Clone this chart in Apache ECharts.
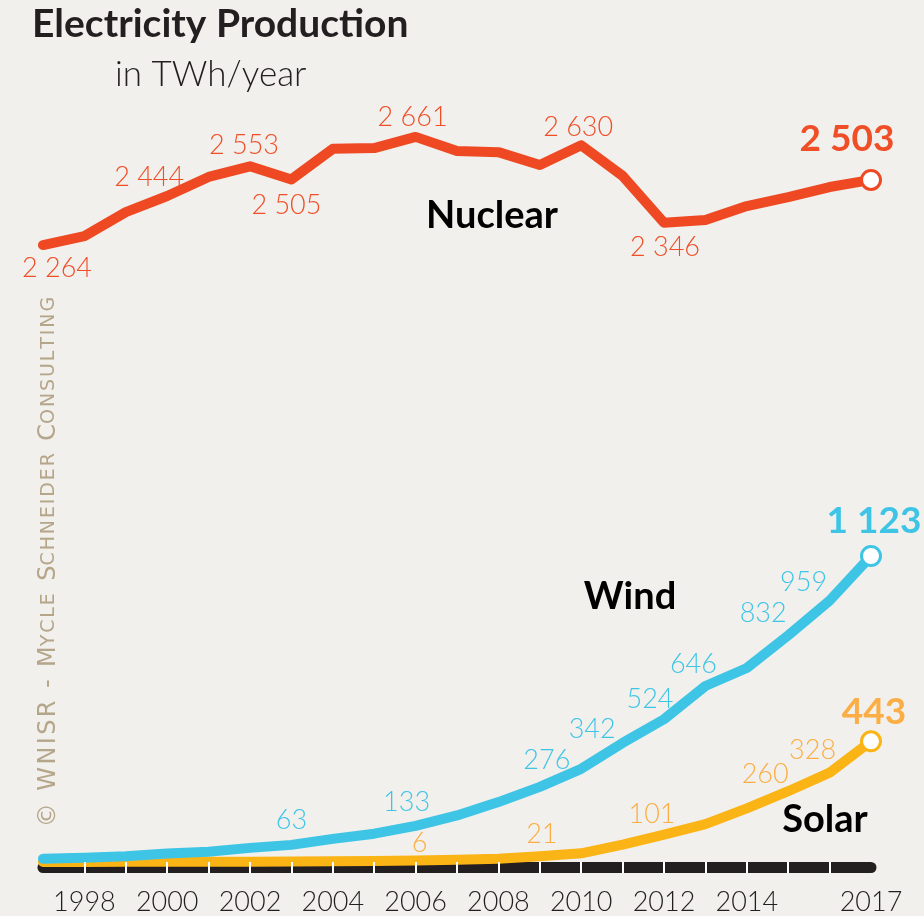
<!DOCTYPE html>
<html>
<head>
<meta charset="utf-8">
<script src="https://cdn.jsdelivr.net/npm/echarts@6/dist/echarts.min.js"></script>
<style>
  html, body { margin: 0; padding: 0; background: #f2f0ed; }
  #chart { width: 924px; height: 916px; }
</style>
</head>
<body>
<div id="chart"></div>
<script>
// values, TWh/year
const years = [1997, 1998, 1999, 2000, 2001, 2002, 2003, 2004, 2005, 2006, 2007,
  2008, 2009, 2010, 2011, 2012, 2013, 2014, 2015, 2016, 2017];
const nuclear = [2264, 2297, 2385, 2444, 2514, 2553, 2505, 2617, 2620, 2661, 2609,
  2605, 2558, 2630, 2518, 2346, 2356, 2407, 2440, 2477, 2503];
const wind = [12, 16, 21, 31, 38, 52, 63, 85, 104, 133, 171,
  220, 276, 342, 437, 524, 646, 712, 832, 959, 1123];
const solar = [0.5, 0.5, 1, 1, 1, 1.5, 2, 3, 4, 6, 8,
  12, 21, 32, 64, 101, 139, 197, 260, 328, 443];
const axisYears = [1998, 2000, 2002, 2004, 2006, 2008, 2010, 2012, 2014, 2017];

// which points carry a value label, and where that label sits (dx, dy from point)
const nuclearLabels = {1997: [14, 23], 2000: [-18, -19], 2002: [-6, -21], 2003: [-5, 26],
  2006: [-3, -20], 2010: [-3, -18], 2012: [1, 25]};
const windLabels = {2003: [0, -25], 2006: [-9, -24], 2009: [7, -27], 2010: [11, -40],
  2012: [-14, -20], 2013: [-12, -22], 2015: [-25, -22], 2016: [-26, -18]};
const solarLabels = {2006: [4, -17], 2009: [2, -22], 2012: [-12, -20], 2015: [-23, -17],
  2016: [-17, -22]};

const fmt = v => String(v).replace(/\B(?=(\d{3})+(?!\d))/g, ' ');
const numFont = 'Lato, "Noto Sans", sans-serif';
const markFont = '"DejaVu Sans", "Liberation Sans", sans-serif';
// letter-spaced small caps for the copyright line
const spaced = s => s.split('').join('\u200a');

function buildData(values, labels, color, endOffset) {
  return values.map((v, i) => {
    const y = years[i];
    const item = {value: [String(y), v], symbol: 'none'};
    if (labels[y]) {
      item.symbol = 'circle';
      item.symbolSize = 1;
      item.itemStyle = {color: 'rgba(0,0,0,0)', borderWidth: 0};
      item.label = {
        show: true, position: 'inside', offset: labels[y],
        formatter: fmt(v), color: color, fontSize: 27, fontWeight: 300, fontFamily: numFont
      };
    }
    if (i === values.length - 1) {
      item.symbol = 'circle';
      item.symbolSize = 19;
      item.label = {
        show: true, position: 'inside', offset: endOffset,
        formatter: fmt(v), color: color, fontSize: 37, fontWeight: 'bold', fontFamily: numFont
      };
    }
    return item;
  });
}

function lineSeries(name, values, labels, lineColor, labelColor, endOffset) {
  return {
    name: name,
    type: 'line',
    xAxisIndex: 0,
    yAxisIndex: 0,
    data: buildData(values, labels, labelColor, endOffset),
    showAllSymbol: true,
    lineStyle: {color: lineColor, width: 10, join: 'round', cap: 'round'},
    itemStyle: {color: '#ffffff', borderColor: lineColor, borderWidth: 3},
    emphasis: {disabled: true},
    silent: true,
    z: 3
  };
}

let chart = echarts.init(document.getElementById('chart'));

chart.setOption({
  backgroundColor: '#f2f0ed',
  animation: false,
  grid: {left: 43, right: 53, top: 44.5, bottom: 48.5, containLabel: false, outerBoundsMode: 'none'},
  xAxis: [
    {
      // year axis: sits on the zero line, white ticks across the black band
      type: 'category', data: years.map(String), boundaryGap: false, position: 'bottom',
      axisLine: {show: false},
      axisTick: {
        show: true, inside: false, length: 11, lineStyle: {color: '#ffffff', width: 2},
        interval: (i) => i > 0 && i < years.length - 1
      },
      axisLabel: {
        margin: 21, color: '#231f20', fontSize: 27, fontWeight: 300, fontFamily: numFont,
        interval: (i, v) => axisYears.indexOf(Number(v)) >= 0
      },
      splitLine: {show: false},
      z: 6
    },
    {
      // black band under the chart
      type: 'value', min: 1997, max: 2017, interval: 1, position: 'bottom',
      axisLine: {show: true, onZero: false, lineStyle: {color: '#231f20', width: 11, cap: 'round'}},
      axisTick: {show: false},
      axisLabel: {show: false},
      splitLine: {show: false},
      z: 1
    }
  ],
  yAxis: {type: 'value', min: -20, max: 3000, show: false, splitLine: {show: false}},
  graphic: [
    {
      type: 'text', left: 32, top: 5,
      style: {text: 'Electricity Production', fill: '#231f20', fontSize: 39, fontWeight: 'bold',
        fontFamily: numFont}
    },
    {
      type: 'text', left: 115, top: 57,
      style: {text: 'in TWh/year', fill: '#231f20', fontSize: 35, fontWeight: 300, fontFamily: numFont}
    },
    {
      type: 'text', x: 492, y: 216,
      style: {text: 'Nuclear', fill: '#000000', fontSize: 38, fontWeight: 'bold', fontFamily: numFont,
        align: 'center', verticalAlign: 'middle'}
    },
    {
      type: 'text', x: 630, y: 597,
      style: {text: 'Wind', fill: '#000000', fontSize: 38, fontWeight: 'bold', fontFamily: numFont,
        align: 'center', verticalAlign: 'middle'}
    },
    {
      type: 'text', x: 825, y: 820,
      style: {text: 'Solar', fill: '#000000', fontSize: 38, fontWeight: 'bold', fontFamily: numFont,
        align: 'center', verticalAlign: 'middle'}
    },
    {
      type: 'text', x: 49, y: 562, rotation: Math.PI / 2,
      style: {
        text: '{b|' + spaced('© WNISR - M') + '}{s|' + spaced('YCLE') + '}{b|\u200a \u200aS}{s|' +
          spaced('CHNEIDER') + '}{b|\u200a \u200aC}{s|' + spaced('ONSULTING') + '}',
        align: 'center', verticalAlign: 'middle',
        fontFamily: markFont, fontSize: 24, fill: '#b5a68a',
        rich: {
          b: {fontSize: 24, fill: '#b5a68a', fontFamily: markFont},
          s: {fontSize: 19, fill: '#b5a68a', fontFamily: markFont}
        }
      }
    }
  ],
  series: [
    lineSeries('Nuclear', nuclear, nuclearLabels, '#ef4923', '#f04e27', [-24, -41]),
    lineSeries('Solar', solar, solarLabels, '#fbb416', '#fbae45', [3, -29]),
    lineSeries('Wind', wind, windLabels, '#3ec5e6', '#3ec5e6', [3, -35])
  ]
});
</script>
</body>
</html>
